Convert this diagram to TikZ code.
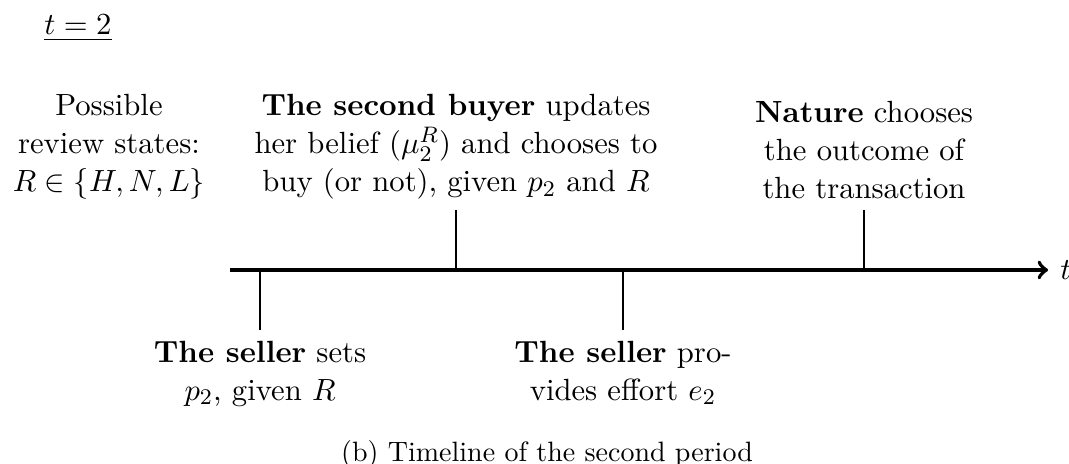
\documentclass[tikz,border=0pt,11pt]{standalone}
\usepackage{amsmath,amsfonts}
\usepackage{tikz}

\tikzset{
    axis/.style={->, line width=1.4pt},
    stem/.style={semithick},
    event/.style={align=center}
}

\begin{document}
\begin{tikzpicture}
        \useasboundingbox (-2.887,-2.435) rectangle (10.532,3.389);
        \node[anchor=base] (period) at (-1.908,2.950) {$\underline{t=2}$};
        \node[event, anchor=south] (states) at (-1.519,0.753) {Possible\\ review states:\\ $R\in\{H,N,L\}$};
        % the time axis
        \coordinate (begin) at (0,0);
        \coordinate (end) at (10.27,0);
        \draw [axis] (begin) -- (end) node[right] (time) {$t$};
        % points on the axis and the ends of the stems
        \coordinate (price) at (0.377,0);
        \coordinate (price end) at (0.377,-0.753);
        \coordinate (buy) at (2.837,0);
        \coordinate (buy end) at (2.837,0.753);
        \coordinate (effort) at (4.933,0);
        \coordinate (effort end) at (4.933,-0.753);
        \coordinate (nature) at (7.959,0);
        \coordinate (nature end) at (7.959,0.753);
        \draw [stem] (price) -- (price end);
        \draw [stem] (buy) -- (buy end);
        \draw [stem] (effort) -- (effort end);
        \draw [stem] (nature) -- (nature end);
        \node[event, below] (seller price) at (price end) {\textbf{The seller} sets\\ $p_2$, given $R$};
        \node[event, above] (buyer) at (buy end) {\textbf{The second buyer} updates\\ her belief ($\mu_2^R$) and chooses to\\ buy (or not), given $p_2$ and $R$};
        \node[event, below] (seller effort) at (effort end) {\textbf{The seller} pro-\\ vides effort $e_2$};
        \node[event, above] (chance) at (nature end) {\textbf{Nature} chooses\\ the outcome of\\ the transaction};
        \node[anchor=base] (caption) at (3.98,-2.40) {\small (b) Timeline of the second period};
    \end{tikzpicture}
\end{document}
